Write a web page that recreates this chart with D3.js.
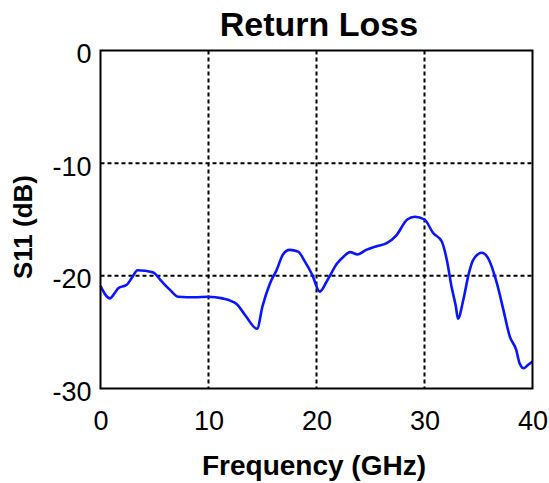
<!DOCTYPE html>
<html>
<head>
<meta charset="utf-8">
<script src="https://cdn.jsdelivr.net/npm/d3@7"></script>
<style>
  body { margin: 0; background: #fff; }
  text { font-family: "Liberation Sans", Arial, sans-serif; }
</style>
</head>
<body>
<svg id="chart"></svg>
<script>
// curve: frequency (GHz) and S11 (dB)
const freq = [0, 0.88, 1.34, 1.65, 2.43, 2.89, 3.44, 4.12, 4.89, 5.67, 6.44, 7.2, 8.75, 9.98,
  11.3, 12.6, 13.4, 14.5, 15.0, 15.7, 16.3, 16.9, 17.5, 18.3, 18.9, 19.6, 20.3, 21.0, 21.9,
  22.5, 23.1, 23.8, 24.6, 25.5, 26.5, 27.4, 28.4, 29.1, 30.0, 30.8, 31.6, 32.1, 32.5, 32.9,
  33.1, 33.6, 34.1, 34.5, 35.3, 35.9, 36.7, 37.3, 37.9, 38.5, 38.8, 39.2, 39.6, 40];
const s11 = [-20.9, -22.0, -21.5, -21.1, -20.8, -20.2, -19.5, -19.55, -19.7, -20.5, -21.25, -21.85, -21.9, -21.85,
  -22.0, -22.5, -23.5, -24.7, -22.7, -20.65, -19.5, -18.1, -17.7, -17.85, -18.7, -19.9, -21.4, -20.4, -18.9,
  -18.3, -17.9, -18.1, -17.7, -17.4, -17.1, -16.4, -15.0, -14.75, -15.0, -16.2, -16.95, -18.75, -20.95, -22.7,
  -23.8, -22.1, -19.8, -18.6, -17.95, -18.45, -20.65, -23.0, -25.4, -26.6, -27.75, -28.2, -27.9, -27.6];
const xTicks = [0, 10, 20, 30, 40];
const yTicks = [0, -10, -20, -30];

const W = 549, H = 483;
const svg = d3.select('#chart').attr('width', W).attr('height', H);

const pLeft = 100.5, pRight = 532.5, pTop = 50.5, pBottom = 388.5;
const xs = d3.scaleLinear().domain([0, 40]).range([pLeft, pRight]);
const ys = d3.scaleLinear().domain([-30, 0]).range([pBottom, pTop]);

// grid
svg.append('g').selectAll('line').data(xTicks.slice(1, -1)).enter().append('line')
  .attr('x1', d => xs(d)).attr('x2', d => xs(d))
  .attr('y1', pTop).attr('y2', pBottom)
  .attr('stroke', '#000').attr('stroke-width', 2).attr('stroke-dasharray', '4,3');
svg.append('g').selectAll('line').data(yTicks.slice(1, -1)).enter().append('line')
  .attr('x1', pLeft).attr('x2', pRight)
  .attr('y1', d => ys(d)).attr('y2', d => ys(d))
  .attr('stroke', '#000').attr('stroke-width', 2).attr('stroke-dasharray', '4,3');

// curve
const pts = freq.map((f, i) => [f, s11[i]]);
svg.append('path')
  .datum(pts)
  .attr('fill', 'none')
  .attr('stroke', '#0a14ff')
  .attr('stroke-width', 2.6)
  .attr('stroke-linejoin', 'round')
  .attr('d', d3.line().x(d => xs(d[0])).y(d => ys(d[1])).curve(d3.curveMonotoneX));

// frame
svg.append('rect')
  .attr('x', pLeft).attr('y', pTop)
  .attr('width', pRight - pLeft).attr('height', pBottom - pTop)
  .attr('fill', 'none').attr('stroke', '#000').attr('stroke-width', 2);

// axes (plain hyphen for the minus sign, as in the original)
const xAxis = svg.append('g')
  .attr('transform', `translate(0,${pBottom})`)
  .call(d3.axisBottom(xs).tickValues(xTicks).tickSize(0).tickPadding(22).tickFormat(d => String(d)));
xAxis.select('.domain').remove();
xAxis.selectAll('text').attr('font-size', 27).attr('fill', '#000').attr('font-family', '"Liberation Sans", Arial, sans-serif');

const yAxis = svg.append('g')
  .attr('transform', `translate(${pLeft},0)`)
  .call(d3.axisLeft(ys).tickValues(yTicks).tickSize(0).tickPadding(9).tickFormat(d => String(d)));
yAxis.select('.domain').remove();
yAxis.selectAll('text').attr('font-size', 27).attr('fill', '#000').attr('dy', '0.45em').attr('font-family', '"Liberation Sans", Arial, sans-serif');

// labels
svg.append('text')
  .attr('x', 319).attr('y', 36)
  .attr('text-anchor', 'middle')
  .attr('font-size', 34).attr('font-weight', 'bold')
  .text('Return Loss');

svg.append('text')
  .attr('x', 314).attr('y', 475)
  .attr('text-anchor', 'middle')
  .attr('font-size', 28).attr('font-weight', 'bold')
  .text('Frequency (GHz)');

svg.append('text')
  .attr('transform', 'translate(32,227) rotate(-90)')
  .attr('text-anchor', 'middle')
  .attr('font-size', 26).attr('font-weight', 'bold')
  .text('S11 (dB)');
</script>
</body>
</html>
